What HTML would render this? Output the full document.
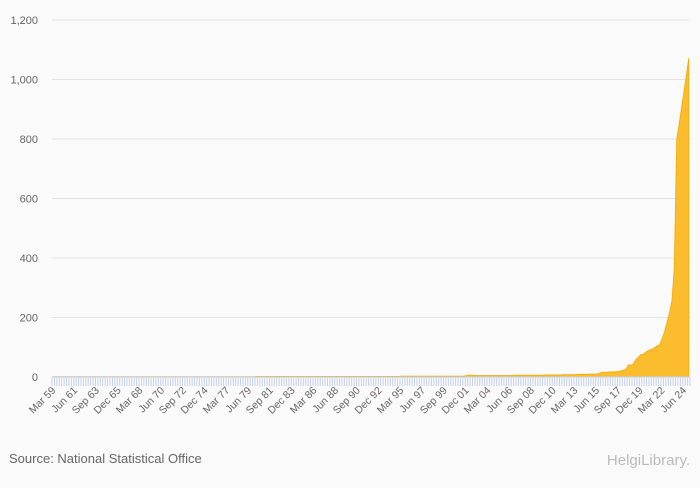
<!DOCTYPE html>
<html><head><meta charset="utf-8"><style>
body{margin:0;background:#fafafa;font-family:"Liberation Sans",sans-serif;}
#c{position:relative;width:700px;height:483px;background:#fafafa;}
</style></head><body>
<div id="c">
<svg id="s" width="700" height="483"></svg>
</div>
<script>
const startYear = 1959;
const yTicks = [0,200,400,600,800,1000,1200];
const yTickLabels = ["0","200","400","600","800","1,000","1,200"];
const qNames = ["Mar","Jun","Sep","Dec"];
const early = [
1,1,1,1, 1,1,1,1, 1,1,1,1, 1,1,1,1, 1,1,1,1, 1,1,1,1, 1,1,1,1, 1,1,1,1, 1,1,1,1, 1,1,1,1,
1,1,1,1, 1,1,1,1, 1,1,1,1, 1,1,1,1, 1,1,1,1, 1,1,1,1, 1,1,1,1, 1,1,1,1, 1,1,1,1, 1,1,1,1,
1,1,1,1, 2,2,2,2, 2,2,2,2, 2,2,2,2, 2,2,2,2, 2,2,2,2, 2,2,2,2, 2,2,2,2, 2,2,2,2, 2,2,2,2,
2,2,2,2, 2,2,2,2, 2,2,2,2, 2,2,2,2, 2,2,2,2, 2,2,2,2, 3,3,3,3, 3,3,3,3, 3,3,3,3, 3,3,3,3,
3,3,3,3, 3,3,3,3, 3,3,3,5];
const late = [
6,6,5,5, 5,5,5,5, 5,5,5,5, 5,5,5,5, 5,5,5,6, 6,6,6,6, 6,6,6,6, 6,6,6,7, 7,7,7,7, 7,7,7,8,
8,8,8,8, 8,9,9,9, 9,9,10,10, 10,10,12,16, 16,16,17,17, 17,18,19,21, 23,26,41,40, 43,58,65,75,
76,82,88,91, 94,100,105,109, 130,153,185,215, 255,367,800,850, 905,960,1015,1072];
const values = early.concat(late);

const NS="http://www.w3.org/2000/svg";
const svg=document.getElementById('s');
const X0=52,X1=690,Y0=377,Y1=20,YMAX=1200;
const n=values.length, step=(X1-X0)/n;
const xq=i=>X0+(i+0.5)*step;
const yv=v=>Y0-(v/YMAX)*(Y0-Y1);
function mk(t,a){const e=document.createElementNS(NS,t);for(const k in a)e.setAttribute(k,a[k]);svg.appendChild(e);return e;}

yTicks.forEach((v,i)=>{
  if(v>0){const g=mk('line',{x1:X0,x2:X1,y1:yv(v),y2:yv(v),stroke:'#e3e3e3','stroke-width':1});
  
  }
  const t=mk('text',{x:38,y:yv(v)+4,'text-anchor':'end','font-size':11,fill:'#666'});
  t.textContent=yTickLabels[i];
  
  
});

let d='M'+xq(0)+','+Y0;
values.forEach((v,i)=>{d+=' L'+xq(i).toFixed(2)+','+yv(v).toFixed(2);});
d+=' L'+xq(n-1)+','+Y0+' Z';
const area=mk('path',{d:d,fill:'#fbbc2e',stroke:'#f5aa00','stroke-width':0.8});



for(let i=0;i<=n;i++){
  const tk=mk('line',{x1:X0+i*step,x2:X0+i*step,y1:Y0,y2:Y0+9,stroke:'#c5d3ec','stroke-width':1});
  
  
}
const ax=mk('line',{x1:X0,x2:X1,y1:Y0,y2:Y0,stroke:'#c5d3ec','stroke-width':1});



for(let i=0;i<n;i+=9){
  const yr=startYear+Math.floor(i/4), q=i%4;
  const lbl=qNames[q]+' '+String(yr%100).padStart(2,'0');
  const x=xq(i)+3,y=Y0+14;
  const t=mk('text',{x:x,y:y,'text-anchor':'end','font-size':10.5,fill:'#666',transform:'rotate(-45 '+x+' '+y+')'});
  t.textContent=lbl;
  
  
}

const src=mk('text',{x:9,y:463,'font-size':13,fill:'#666'});
src.textContent='Source: National Statistical Office';


const logo=mk('text',{x:690,y:465,'text-anchor':'end','font-size':15,fill:'#bbb'});
logo.textContent='HelgiLibrary.';


</script>
</body></html>
